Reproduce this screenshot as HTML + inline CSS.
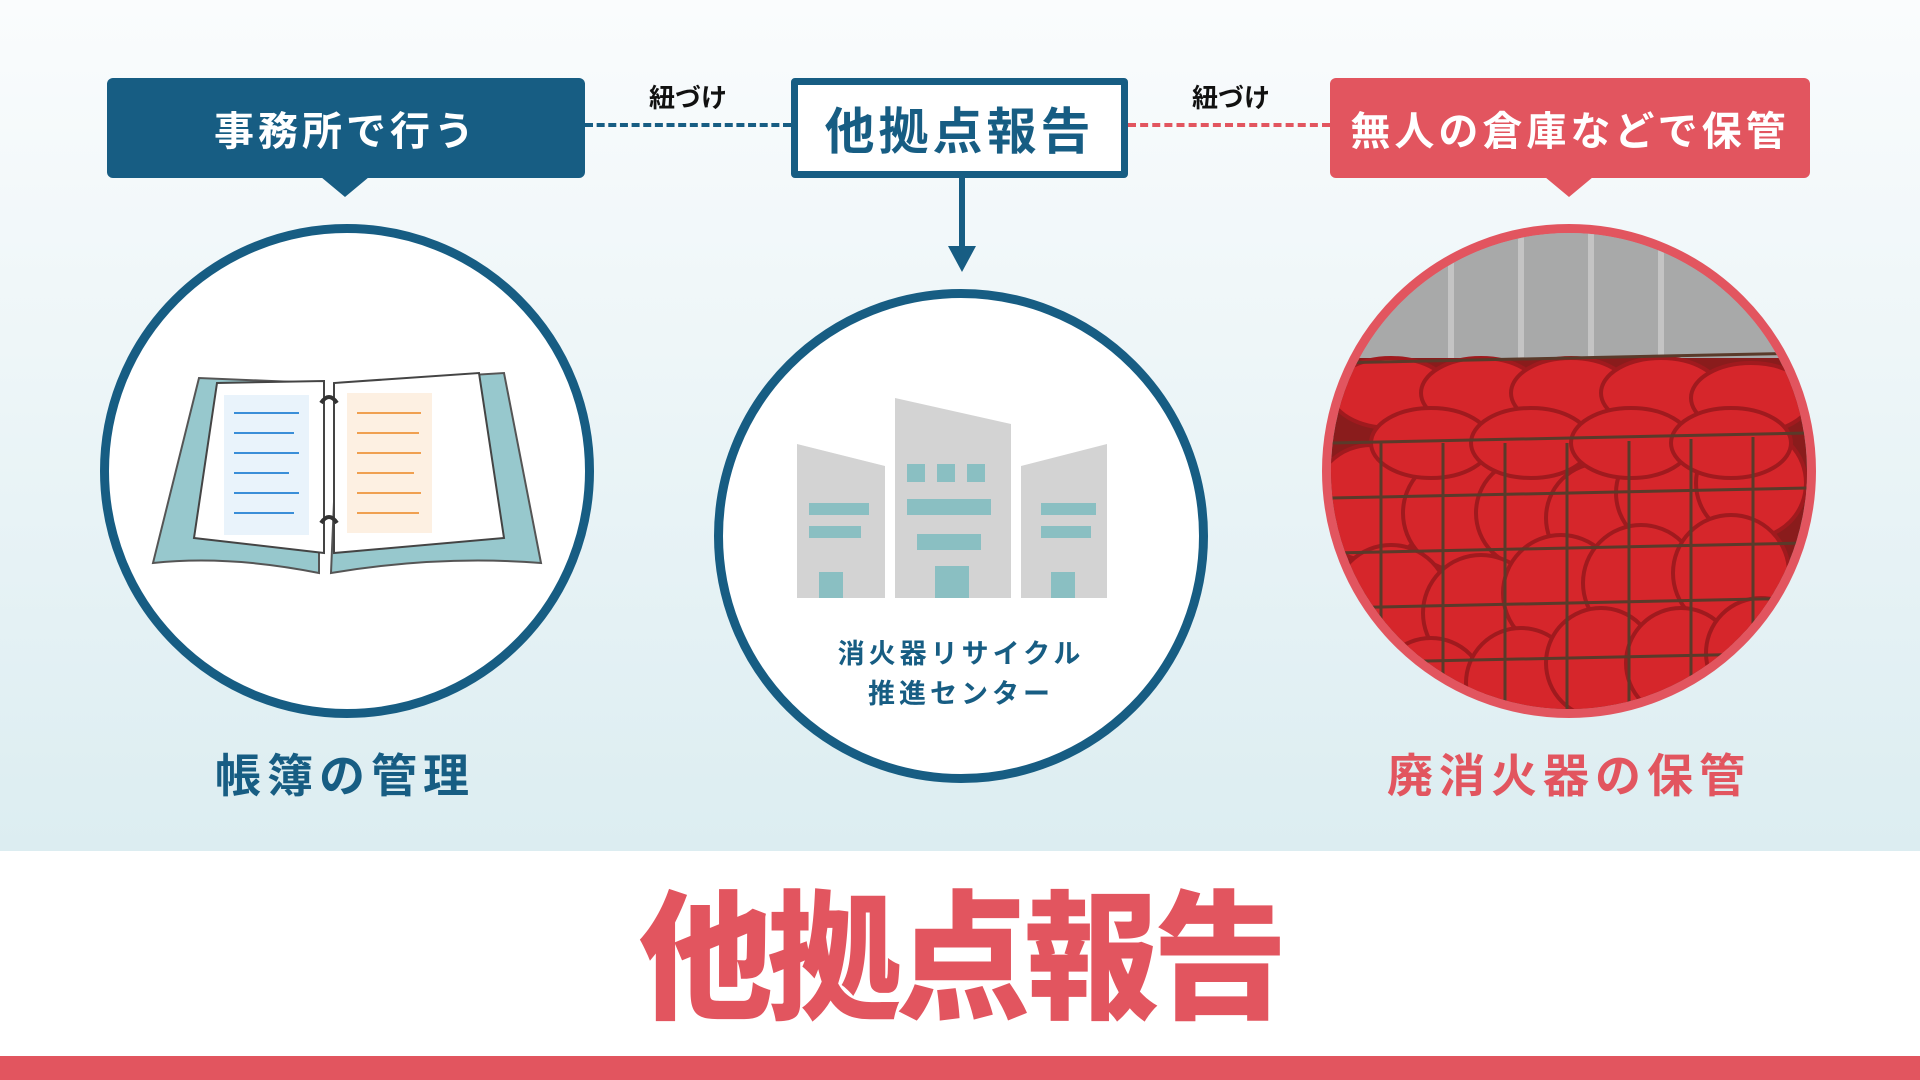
<!DOCTYPE html>
<html><head><meta charset="utf-8"><style>
*{margin:0;padding:0;box-sizing:border-box}
body{width:1920px;height:1080px;overflow:hidden;position:relative;font-family:"Liberation Sans","Noto Sans CJK JP",sans-serif;font-weight:bold;background:#fff}
.bg{position:absolute;left:0;top:0;width:1920px;height:851px;background:linear-gradient(#fafcfd,#dcedf1)}
.box{position:absolute;top:78px;height:100px;border-radius:6px;display:flex;align-items:center;justify-content:center;color:#fff;font-size:40px;letter-spacing:4px}
.ptr{position:absolute;width:0;height:0;border-left:24px solid transparent;border-right:24px solid transparent;border-top:20px solid}
.lab{position:absolute;font-size:26px;color:#111;transform:translateX(-50%)}
.cap{position:absolute;font-size:46px;letter-spacing:6px;transform:translateX(-50%);white-space:nowrap}
.circ{position:absolute;width:494px;height:494px;border-radius:50%;background:#fff;overflow:hidden}
</style></head><body>
<div class="bg"></div>
<div style="position:absolute;left:585px;top:123px;width:206px;border-top:4px dashed #175d83"></div>
<div style="position:absolute;left:1128px;top:123px;width:202px;border-top:4px dashed #e2555f"></div>
<div class="lab" style="left:688px;top:78px">紐づけ</div>
<div class="lab" style="left:1231px;top:78px">紐づけ</div>
<div class="box" style="left:107px;width:478px;background:#175d83">事務所で行う</div>
<div class="ptr" style="left:321px;top:177px;border-top-color:#175d83"></div>
<div class="box" style="left:791px;width:337px;background:#fff;border:7px solid #175d83;color:#175d83;font-size:50px;border-radius:4px">他拠点報告</div>
<div class="box" style="left:1330px;width:480px;background:#e2555f">無人の倉庫などで保管</div>
<div class="ptr" style="left:1545px;top:177px;border-top-color:#e2555f"></div>
<div style="position:absolute;left:959px;top:178px;width:6px;height:70px;background:#175d83"></div>
<div class="ptr" style="left:948px;top:246px;border-left-width:14px;border-right-width:14px;border-top:26px solid #175d83"></div>

<div class="circ" style="left:100px;top:224px;border:9px solid #175d83">
<svg width="476" height="476" viewBox="0 0 476 476" style="position:absolute;left:0;top:0">
<path d="M44 330 L90 145 L210 150 L210 340 Q120 322 44 330Z" fill="#97c8cd" stroke="#555" stroke-width="2"/>
<path d="M432 330 L395 140 L230 150 L222 340 Q330 322 432 330Z" fill="#97c8cd" stroke="#555" stroke-width="2"/>
<path d="M85 305 L108 150 L215 148 L215 320Z" fill="#fff" stroke="#444" stroke-width="2"/>
<path d="M225 320 L225 150 L370 140 L395 305Z" fill="#fff" stroke="#444" stroke-width="2"/>
<rect x="115" y="162" width="85" height="140" fill="#e9f3fb"/>
<rect x="238" y="160" width="85" height="140" fill="#fdf0e2"/>
<g stroke="#3a8ed8" stroke-width="2"><line x1="125" y1="180" x2="190" y2="180"/><line x1="125" y1="200" x2="185" y2="200"/><line x1="125" y1="220" x2="190" y2="220"/><line x1="125" y1="240" x2="180" y2="240"/><line x1="125" y1="260" x2="190" y2="260"/><line x1="125" y1="280" x2="185" y2="280"/></g>
<g stroke="#f0a050" stroke-width="2"><line x1="248" y1="180" x2="312" y2="180"/><line x1="248" y1="200" x2="310" y2="200"/><line x1="248" y1="220" x2="312" y2="220"/><line x1="248" y1="240" x2="305" y2="240"/><line x1="248" y1="260" x2="312" y2="260"/><line x1="248" y1="280" x2="310" y2="280"/></g>
<path d="M212 170 q8 -12 16 0 M212 290 q8 -12 16 0" stroke="#333" stroke-width="4" fill="none"/>
</svg></div>

<div class="circ" style="left:714px;top:289px;border:9px solid #175d83">
<svg width="476" height="476" viewBox="0 0 476 476" style="position:absolute;left:0;top:0">
<polygon points="74,146 162,168 162,300 74,300" fill="#d3d3d3"/>
<polygon points="172,100 288,126 288,300 172,300" fill="#d3d3d3"/>
<polygon points="298,168 384,146 384,300 298,300" fill="#d3d3d3"/>
<g fill="#8abfc2"><rect x="86" y="205" width="60" height="12"/><rect x="86" y="228" width="52" height="12"/><rect x="96" y="274" width="24" height="26"/>
<rect x="184" y="166" width="18" height="18"/><rect x="214" y="166" width="18" height="18"/><rect x="244" y="166" width="18" height="18"/><rect x="184" y="201" width="84" height="16"/><rect x="194" y="236" width="64" height="16"/><rect x="212" y="268" width="34" height="32"/>
<rect x="318" y="205" width="55" height="12"/><rect x="318" y="228" width="50" height="12"/><rect x="328" y="274" width="24" height="26"/></g>
</svg>
<div style="position:absolute;left:0;width:476px;top:336px;text-align:center;color:#175d83;font-size:27px;letter-spacing:4px;line-height:40px">消火器リサイクル<br>推進センター</div>
</div>

<div class="circ" style="left:1322px;top:224px;border:9px solid #e2555f;background:#b0b0b0">
<svg width="476" height="476" viewBox="0 0 476 476" style="position:absolute;left:0;top:0">
<rect width="476" height="476" fill="#a8a9a9"/>
<g stroke="#c4c4c4" stroke-width="6"><line x1="120" y1="0" x2="120" y2="130"/><line x1="190" y1="0" x2="190" y2="130"/><line x1="260" y1="0" x2="260" y2="130"/><line x1="330" y1="0" x2="330" y2="130"/></g>
<rect x="0" y="125" width="476" height="351" fill="#8a1c1c"/>
<g fill="#d6262b" stroke="#a01a1e" stroke-width="4">
<circle cx="40" cy="270" r="58"/><circle cx="130" cy="280" r="58"/><circle cx="200" cy="280" r="55"/><circle cx="270" cy="285" r="55"/><circle cx="340" cy="260" r="55"/><circle cx="420" cy="250" r="55"/>
<circle cx="60" cy="370" r="58"/><circle cx="150" cy="380" r="58"/><circle cx="230" cy="360" r="58"/><circle cx="310" cy="350" r="58"/><circle cx="400" cy="340" r="58"/>
<circle cx="100" cy="460" r="55"/><circle cx="190" cy="450" r="55"/><circle cx="270" cy="430" r="55"/><circle cx="350" cy="430" r="55"/><circle cx="430" cy="420" r="55"/>
<ellipse cx="60" cy="160" rx="60" ry="35"/><ellipse cx="150" cy="160" rx="60" ry="35"/><ellipse cx="240" cy="160" rx="60" ry="35"/><ellipse cx="330" cy="160" rx="60" ry="35"/><ellipse cx="420" cy="165" rx="60" ry="35"/>
<ellipse cx="100" cy="210" rx="60" ry="35"/><ellipse cx="200" cy="210" rx="60" ry="35"/><ellipse cx="300" cy="210" rx="60" ry="35"/><ellipse cx="400" cy="210" rx="60" ry="35"/></g>
<g stroke="#5a3a2a" stroke-width="3" fill="none">
<line x1="0" y1="210" x2="476" y2="200"/><line x1="0" y1="265" x2="476" y2="255"/><line x1="0" y1="320" x2="476" y2="310"/><line x1="0" y1="375" x2="476" y2="365"/><line x1="0" y1="430" x2="476" y2="420"/>
<line x1="50" y1="210" x2="50" y2="476"/><line x1="112" y1="210" x2="112" y2="476"/><line x1="174" y1="210" x2="174" y2="476"/><line x1="236" y1="210" x2="236" y2="476"/><line x1="298" y1="208" x2="298" y2="476"/><line x1="360" y1="206" x2="360" y2="476"/><line x1="422" y1="204" x2="422" y2="476"/>
<line x1="0" y1="130" x2="476" y2="120"/></g>
</svg></div>

<div class="cap" style="left:345px;top:740px;color:#175d83">帳簿の管理</div>
<div class="cap" style="left:1569px;top:740px;color:#e2555f">廃消火器の保管</div>
<div style="position:absolute;left:0;width:1920px;top:885px;text-align:center;font-size:140px;font-weight:900;color:#e2555f;line-height:150px;letter-spacing:-6px;transform:scaleX(0.96)">他拠点報告</div>
<div style="position:absolute;left:0;top:1056px;width:1920px;height:24px;background:#e2555f"></div>
</body></html>
